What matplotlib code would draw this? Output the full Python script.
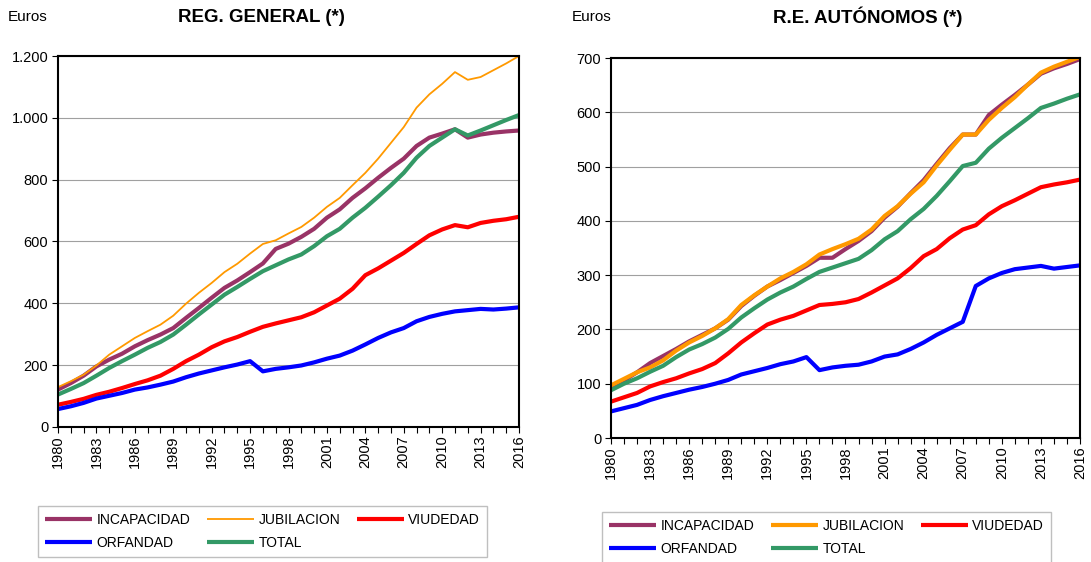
import matplotlib
matplotlib.use("Agg")
import matplotlib.pyplot as plt
from matplotlib.ticker import FuncFormatter, MultipleLocator

plt.rcParams['font.family'] = ['Liberation Sans', 'DejaVu Sans']

years = list(range(1980, 2017))

# REG. GENERAL
gen_incapacidad = [121, 142, 166, 196, 218, 237, 261, 281, 299, 320, 353, 385, 418, 450, 474, 501,
                   529, 576, 593, 615, 641, 677, 704, 741, 772, 806, 838, 868, 909, 936, 949, 963,
                   936, 946, 952, 956, 959]
gen_jubilacion = [129, 148, 169, 199, 234, 261, 288, 310, 331, 360, 399, 434, 466, 501, 528, 561,
                  592, 604, 626, 647, 677, 712, 741, 782, 822, 868, 919, 970, 1033, 1076, 1110, 1148,
                  1123, 1132, 1154, 1176, 1200]
gen_viudedad = [72, 81, 91, 104, 114, 126, 139, 151, 166, 188, 213, 234, 258, 277, 291, 308,
                324, 335, 345, 355, 371, 393, 415, 447, 491, 513, 538, 563, 592, 620, 639, 653,
                646, 660, 667, 672, 680]
gen_orfandad = [58, 67, 78, 92, 101, 110, 121, 128, 137, 147, 161, 173, 183, 193, 202, 213,
                180, 188, 193, 199, 209, 221, 231, 247, 267, 288, 306, 320, 342, 356, 366, 374,
                378, 382, 380, 383, 387]
gen_total = [105, 123, 142, 166, 191, 213, 234, 256, 275, 299, 331, 364, 396, 428, 453, 479,
             504, 523, 542, 558, 585, 617, 641, 677, 709, 745, 782, 822, 871, 909, 936, 963,
             943, 959, 976, 993, 1009]

# R.E. AUTONOMOS
aut_incapacidad = [94, 106, 121, 138, 151, 164, 178, 190, 202, 218, 243, 262, 279, 291, 304, 317,
                   332, 332, 348, 363, 381, 406, 426, 451, 475, 505, 534, 559, 559, 595, 614, 632,
                   651, 671, 681, 689, 698]
aut_jubilacion = [97, 109, 121, 130, 143, 161, 176, 188, 202, 219, 245, 263, 279, 294, 306, 320,
                  338, 348, 357, 367, 384, 409, 427, 450, 471, 502, 531, 559, 559, 586, 608, 628,
                  651, 673, 684, 693, 702]
aut_viudedad = [67, 75, 83, 95, 103, 110, 119, 127, 138, 156, 176, 193, 209, 218, 225, 235,
                245, 247, 250, 256, 268, 281, 294, 313, 335, 348, 368, 384, 392, 412, 427, 438,
                450, 462, 467, 471, 476]
aut_orfandad = [49, 55, 61, 70, 77, 83, 89, 94, 100, 107, 117, 123, 129, 136, 141, 149,
                125, 130, 133, 135, 141, 150, 154, 164, 176, 190, 202, 214, 280, 294, 304, 311,
                314, 317, 312, 315, 318]
aut_total = [88, 100, 110, 122, 133, 149, 163, 173, 185, 201, 222, 239, 255, 268, 279, 293,
             306, 314, 322, 330, 346, 366, 381, 403, 422, 446, 473, 501, 507, 533, 553, 571,
             589, 608, 616, 625, 633]

labels = ['INCAPACIDAD', 'JUBILACION', 'VIUDEDAD', 'ORFANDAD', 'TOTAL']
colors = ['#993366', '#FF9900', '#FF0000', '#0000FF', '#339966']

fig = plt.figure(figsize=(10.91, 5.62), dpi=100)

def thousands(v, pos):
    return f"{int(v):,}".replace(',', '.')

def setup(ax, ymax, ystep, title, titlex, eurosx):
    ax.set_xlim(1980, 2016)
    ax.set_ylim(0, ymax)
    ax.yaxis.set_major_locator(MultipleLocator(ystep))
    ax.yaxis.set_major_formatter(FuncFormatter(thousands))
    ax.set_xticks(list(range(1980, 2017, 3)))
    ax.set_xticklabels([str(y) for y in range(1980, 2017, 3)], rotation=90)
    ax.xaxis.set_minor_locator(MultipleLocator(1))
    ax.tick_params(axis='x', which='both', direction='out', length=4, width=0.8, labelsize=10.5, pad=2)
    ax.tick_params(axis='y', which='major', direction='out', length=4, width=0.8, labelsize=10.5, pad=3)
    ax.grid(axis='y', color='#a0a0a0', linewidth=0.8)
    ax.set_axisbelow(True)
    for s in ax.spines.values():
        s.set_linewidth(1.5)
        s.set_color('black')
    fig.text(titlex, 1 - 17/562, title, ha='center', va='center', fontsize=13.5, fontweight='bold')
    fig.text(eurosx, 1 - 17/562, 'Euros', ha='left', va='center', fontsize=11)

ax1 = fig.add_axes([58/1091, 1 - 427/562, 461/1091, 371/562])
series1 = [gen_incapacidad, gen_jubilacion, gen_viudedad, gen_orfandad, gen_total]
widths1 = [3, 1.3, 3, 3, 3]
for data, lab, c, w in zip(series1, labels, colors, widths1):
    ax1.plot(years, data, color=c, linewidth=w, label=lab, solid_capstyle='butt')
setup(ax1, 1200, 200, 'REG. GENERAL (*)', 261/1091, 8/1091)

ax2 = fig.add_axes([611/1091, 1 - 438/562, 469/1091, 380/562])
series2 = [aut_incapacidad, aut_jubilacion, aut_viudedad, aut_orfandad, aut_total]
widths2 = [3, 3, 3, 3, 3]
for data, lab, c, w in zip(series2, labels, colors, widths2):
    ax2.plot(years, data, color=c, linewidth=w, label=lab, solid_capstyle='butt')
setup(ax2, 700, 100, 'R.E. AUTÓNOMOS (*)', 868/1091, 572/1091)

def add_legend(ax, box):
    h, l = ax.get_legend_handles_labels()
    order = [0, 3, 1, 4, 2]  # row-wise fill: INC, JUB, VIU / ORF, TOTAL
    h = [h[i] for i in order]
    l = [l[i] for i in order]
    leg = fig.legend(h, l, ncol=3, loc='center', bbox_to_anchor=box,
                     bbox_transform=fig.transFigure, fontsize=10, frameon=True,
                     fancybox=False, edgecolor='#b0b0b0', handlelength=3.4,
                     columnspacing=1.0, handletextpad=0.3, labelspacing=0.6,
                     borderpad=0.5, borderaxespad=0, mode='expand')
    leg.get_frame().set_linewidth(1.0)
    return leg

add_legend(ax1, (38/1091, 1 - 558/562, 449/1091, 53/562))
add_legend(ax2, (602/1091, 1 - 566/562, 449/1091, 57/562))

fig.savefig('out.png', dpi=100)
